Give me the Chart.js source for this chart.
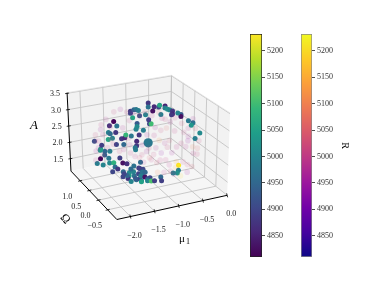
<!DOCTYPE html>
<html><head><meta charset="utf-8">
<script src="https://cdn.jsdelivr.net/npm/chart.js@4"></script>
<style>html,body{margin:0;padding:0;background:#fff;width:384px;height:288px;overflow:hidden}
canvas{position:absolute;top:0}</style></head><body>
<canvas id="main" width="384" height="288" style="left:0"></canvas>
<canvas id="cb1" width="60" height="288" style="left:240px"></canvas>
<canvas id="cb2" width="60" height="288" style="left:291px"></canvas>
<script>
const muTicks=[-2.0,-1.5,-1.0,-0.5,0.0];
const cTicks=[-0.5,0.0,0.5,1.0];
const aTicks=[1.5,2.0,2.5,3.0,3.5];
const rTicks=[4850,4900,4950,5000,5050,5100,5150,5200];
const muLim=[-2.28,0.0], cLim=[-1.0,1.5], aLim=[1.12,3.52], rLim=[4810,5231.5];

const muBack=[-1.15,-1.15,-1.075,-1.025,-0.975,-0.76,-0.76,-0.66,-0.63,-0.53,-0.51,-0.39,-0.39,-0.335,-0.285,-0.48,-0.225,-0.225,-0.245];
const aBack=[2.93,2.87,2.96,2.95,2.91,3.08,2.96,2.81,2.93,2.90,2.95,2.89,2.83,2.78,2.74,2.65,2.69,2.60,2.58];
const rBack=[4890,4900,4950,4980,4990,4880,4970,4830,4860,4900,5060,4850,4990,5020,5000,4990,4880,4850,4880];
const cBack=1.0;

const muMid=[-2.06,-1.95,-2.16,-2.15,-2.06,-1.97,-2.15,-2.22,-2.09,-1.95,-1.86,-1.83,-1.77,-1.88,-1.99,-2.29,-1.90,-1.70,-1.63,-1.81,-1.65,-1.37,-1.37,-1.40,-2.13,-1.88,-1.97,-1.81,-1.99,-1.95,-1.83,-1.61,-1.49,-1.32,-1.37,-1.39,-1.23,-1.37,-1.10,-1.065,-1.12,-1.19,-1.32,-1.47,0.0,-0.10,-0.255,-0.155,-0.19,-0.42,-0.42,-0.49];
const aMid=[2.36,2.33,2.42,2.45,2.25,2.13,2.16,2.04,1.96,1.98,1.96,1.83,1.75,1.70,2.69,2.72,2.70,2.63,2.64,2.49,2.45,2.47,2.33,2.28,2.56,3.19,3.09,3.04,2.90,2.85,2.85,2.72,2.66,2.64,3.00,2.83,2.76,2.91,2.92,2.91,3.04,3.21,3.22,3.20,2.33,2.19,2.78,2.69,2.62,3.01,2.95,3.08];
const rMid=[4950,4990,5030,5050,4940,4980,4815,4990,5000,5010,5080,4960,4880,4900,5060,4920,5000,4880,4860,4900,4950,4860,4880,4980,4890,4815,4870,4970,4990,4960,4880,5090,4980,4880,4930,5000,4990,5010,4900,5100,4890,5000,4920,5060,5010,4990,4980,4970,5030,4930,4830,5000];
const cMid=0.25;

const muFront=[-2.08,-2.01,-1.92,-1.99,-1.77,-1.63,-1.63,-1.86,-1.86,-1.77,-1.75,-1.66,-1.59,-1.57,-1.99,-1.88,-1.81,-1.70,-1.63,-1.59,-1.57,-1.66,-1.57,-1.52,-1.61,-1.52,-1.41,-1.46,-1.59,-1.46,-1.38,-1.31,-1.18,-1.16,-0.81,-0.81,-0.83,-0.92,-1.83,-1.90,-1.97,-1.72,-1.75];
const aFront=[2.56,2.40,2.35,2.14,2.24,2.31,2.12,2.07,1.98,2.07,1.95,1.98,2.05,1.89,1.99,1.91,1.80,1.82,1.83,1.76,2.09,2.15,2.01,1.99,1.91,1.85,1.79,1.78,1.73,1.72,1.69,1.68,1.75,1.63,1.98,1.84,1.76,1.79,2.17,2.00,2.07,1.86,2.71];
const rFront=[4890,4830,4870,4950,4970,4960,4900,5010,5040,5000,4970,4900,4960,4990,4900,4880,5000,4960,4900,4980,4900,4890,4970,4950,4990,4830,4900,4920,5050,5000,5110,4890,4950,4890,5230,4990,5020,5000,4960,4950,4900,4930,4990];
const cFront=-0.5;

const muGhost=[-1.74,-1.88,-2.15,-2.16,-2.27,-2.20,-1.93,-2.11,-1.54,-1.68,-1.32,-0.83,-0.76,-0.975,-0.73,-0.55,-0.255,-0.40,-0.255,-0.015,-0.88,-0.995,-0.66,-0.155,-0.40,-0.045,-0.76,-0.995,-0.83,-0.73,-0.51,-0.255,-0.135,-0.55,-0.40,-0.62,-0.255,-0.155,-0.76,-1.045,-0.925,-0.90,-1.21,-2.27,-2.25,-1.74,-1.40,-1.25,-1.085,-1.52,-1.88,-1.25,-1.10,-2.05,-1.95,-2.2,-2.1,-1.6,-1.45,-1.2,-1.05,-0.9,-0.65,-0.55,-0.35,-0.25,-0.1,-0.3,-0.15,-0.05,-0.5,-0.6,-0.7,-0.85,-0.95,-0.5,-0.35,-0.65,-1.15,-1.3,-1.5,-1.65,-1.55,-1.15,-0.85,-2.25,-2.0];
const aGhost=[3.52,3.48,3.17,3.03,2.90,2.70,2.67,2.87,3.13,2.95,3.22,3.01,2.96,2.77,2.69,2.55,2.55,2.74,2.17,2.10,2.36,2.54,2.29,2.81,2.13,1.88,2.24,1.96,1.96,1.73,1.43,1.44,1.75,1.24,1.14,1.35,1.21,1.35,1.36,1.82,1.70,1.40,1.79,2.72,2.42,2.27,2.02,2.03,1.89,2.40,2.52,2.32,2.19,3.3,3.05,2.5,2.25,3.4,3.35,3.3,3.15,3.2,2.85,2.95,2.45,2.3,2.5,2.0,1.95,1.7,2.05,1.9,2.1,1.75,2.15,1.6,1.55,1.55,2.1,1.95,2.15,2.3,2.6,2.6,2.65,2.15,2.45];
const rGhost=[4960,5010,5000,4950,5020,4990,5040,4980,5000,4970,5030,4990,5010,4950,5060,5000,4980,5020,4940,5010,5120,4990,5030,4960,5000,5050,4980,5010,4930,5000,5150,5020,4990,4970,5200,5010,4950,5040,4990,5000,5030,5100,4980,5000,4960,5020,4990,5010,5050,4970,5000,4940,5020,4980,5010,4960,5030,5000,4950,5020,4990,5040,4970,5010,5000,4960,5030,4980,5090,5010,4990,4950,5020,5000,4970,5130,5010,4990,4960,5030,5000,4980,5010,4950,5020,4990,5000];
const cGhost=0.25;

const muBig=[-1.12], aBig=[2.35], rBig=[4980], cBig=0.25;

const viridisStops=['#440154','#482878','#3e4989','#31688e','#26828e','#1f9e89','#35b779','#6ece58','#b5de2b','#fde725'];
const plasmaStops=['#0d0887','#46039f','#7201a8','#9c179e','#bd3786','#d8576b','#ed7953','#fb9f3a','#fdca26','#f0f921'];
const hex=h=>[1,3,5].map(i=>parseInt(h.substr(i,2),16));
function cmap(stops,r,alpha){
  const t=Math.min(1,Math.max(0,(r-rLim[0])/(rLim[1]-rLim[0])))*(stops.length-1);
  const i=Math.min(stops.length-2,Math.floor(t)),f=t-i,a=hex(stops[i]),b=hex(stops[i+1]);
  const c=a.map((v,k)=>Math.round(v+(b[k]-v)*f));
  return `rgba(${c[0]},${c[1]},${c[2]},${alpha})`;
}
// box corners in the page plane, used for the perspective of the 3D axes
const FL={a:[115,222],b:[228,197],c:[68,172],d:[170,150]};
const TP={a:[122,135],b:[231,112],c:[64,91],d:[171,73]};
function project(mu,c,A){
  const u=(mu-muLim[0])/(muLim[1]-muLim[0]),v=(c-cLim[0])/(cLim[1]-cLim[0]),w=(A-aLim[0])/(aLim[1]-aLim[0]);
  const bl=(Q,k)=>(1-u)*(1-v)*Q.a[k]+u*(1-v)*Q.b[k]+(1-u)*v*Q.c[k]+u*v*Q.d[k];
  return {x:bl(FL,0)*(1-w)+bl(TP,0)*w,y:bl(FL,1)*(1-w)+bl(TP,1)*w};
}
const pts=(mu,a,c)=>mu.map((m,i)=>project(m,c,a[i]));
const cols=(r,alpha)=>r.map(v=>cmap(viridisStops,v,alpha));
const SERIF='"Liberation Serif",serif';

const axes3d={id:'axes3d',
 beforeDatasetsDraw(ch){
  const g=ch.ctx,X=ch.scales.x,Y=ch.scales.y;
  const P=(m,c,a)=>{const p=project(m,c,a);return [X.getPixelForValue(p.x),Y.getPixelForValue(p.y)];};
  const poly=(L,fill)=>{g.beginPath();L.forEach((p,i)=>i?g.lineTo(p[0],p[1]):g.moveTo(p[0],p[1]));g.closePath();g.fillStyle=fill;g.fill();};
  const [m0,m1]=muLim,[c0,c1]=cLim,[a0,a1]=aLim;
  poly([P(m0,c1,a0),P(m1,c1,a0),P(m1,c1,a1),P(m0,c1,a1)],'#f2f2f2');
  poly([P(m1,c0,a0),P(m1,c1,a0),P(m1,c1,a1),P(m1,c0,a1)],'#f2f2f2');
  poly([P(m0,c0,a0),P(m1,c0,a0),P(m1,c1,a0),P(m0,c1,a0)],'#f6f6f6');
  const line=(L,col,w)=>{g.beginPath();L.forEach((p,i)=>i?g.lineTo(p[0],p[1]):g.moveTo(p[0],p[1]));g.strokeStyle=col;g.lineWidth=w;g.stroke();};
  const GC='#c4c4c4';
  muTicks.forEach(m=>line([P(m,c0,a0),P(m,c1,a0),P(m,c1,a1)],GC,0.9));
  cTicks.forEach(c=>line([P(m0,c,a0),P(m1,c,a0),P(m1,c,a1)],GC,0.9));
  aTicks.forEach(a=>line([P(m0,c1,a),P(m1,c1,a),P(m1,c0,a)],GC,0.9));
  line([P(m1,c1,a0),P(m1,c1,a1)],'#c0c0c0',1);
  line([P(m0,c1,a1),P(m1,c1,a1),P(m1,c0,a1)],'#e4e4e4',0.8);
  line([P(m0,c1,a1),P(m0,c1,a0),P(m0,c0,a0),P(m1,c0,a0)],'#000',1);
  muTicks.forEach(m=>{const p=P(m,c0,a0);line([[p[0]-0.5,p[1]-2],[p[0]+0.5,p[1]+2]],'#000',0.8);});
  cTicks.forEach(c=>{const p=P(m0,c,a0);line([[p[0]+2,p[1]-0.5],[p[0]-2,p[1]+0.5]],'#000',0.8);});
  aTicks.forEach(a=>{const p=P(m0,c1,a);line([[p[0]+2,p[1]-0.3],[p[0]-2,p[1]+0.3]],'#000',0.8);});
 },
 afterDatasetsDraw(ch){
  const g=ch.ctx,X=ch.scales.x,Y=ch.scales.y;
  const P=(m,c,a)=>{const p=project(m,c,a);return [X.getPixelForValue(p.x),Y.getPixelForValue(p.y)];};
  const [m0,m1]=muLim,[c0,c1]=cLim,[a0]=aLim;
  g.save();g.fillStyle='#222';g.font='8px '+SERIF;g.textBaseline='middle';g.textAlign='center';
  const fmt=v=>(v<0?'\u2212':'')+Math.abs(v).toFixed(1);
  muTicks.forEach(m=>{const p=P(m,c0,a0);g.fillText(fmt(m),p[0]+4,p[1]+19);});
  cTicks.forEach(c=>{const p=P(m0,c,a0);g.fillText(fmt(c),p[0]-13,p[1]+16);});
  g.textAlign='right';
  aTicks.forEach(a=>{const p=P(m0,c1,a);g.fillText(fmt(a),p[0]-7,p[1]+1);});
  g.fillStyle='#000';g.textAlign='center';
  g.font='italic 13px '+SERIF;g.fillText('A',34,126);
  g.font='11px '+SERIF;g.fillText('\u03bc',182,239);g.font='8px '+SERIF;g.fillText('1',188,242);
  g.save();g.translate(65,219);g.rotate(0.85);g.font='12px '+SERIF;g.fillText('\u03a9',0,0);g.restore();
  g.restore();
 }};

const ds=(mu,a,c,col,radius)=>({data:pts(mu,a,c),pointBackgroundColor:col,pointBorderWidth:0,pointRadius:radius,pointHoverRadius:radius,showLine:false,clip:false});
new Chart(document.getElementById('main'),{type:'scatter',
 data:{datasets:[
  ds(muGhost,aGhost,cGhost,rGhost.map(v=>cmap(plasmaStops,v,0.13)),2.8),
  ds(muBack,aBack,cBack,cols(rBack,1),2.5),
  ds(muBig,aBig,cBig,cols(rBig,1),4.6),
  ds(muMid,aMid,cMid,cols(rMid,1),2.5),
  ds(muFront,aFront,cFront,cols(rFront,1),2.5)]},
 options:{responsive:false,animation:false,layout:{padding:0},plugins:{legend:{display:false},tooltip:{enabled:false}},
  scales:{x:{type:'linear',min:0,max:384,display:false},y:{type:'linear',min:0,max:288,reverse:true,display:false}}},
 plugins:[axes3d]});

function colorbar(id,stops,edge,label,padLeft,scaleW){
 new Chart(document.getElementById(id),{type:'bar',
  data:{labels:['R'],datasets:[{data:[rLim],barPercentage:1,categoryPercentage:1,borderWidth:1,borderColor:edge,borderSkipped:false,
   backgroundColor(ctx){const a=ctx.chart.chartArea;if(!a)return stops[0];
    const gr=ctx.chart.ctx.createLinearGradient(0,a.bottom,0,a.top);stops.forEach((s,i)=>gr.addColorStop(i/(stops.length-1),s));return gr;}}]},
  options:{responsive:false,animation:false,layout:{padding:{top:34,bottom:31,left:padLeft,right:0}},
   plugins:{legend:{display:false},tooltip:{enabled:false}},
   scales:{x:{display:false},
    y:{position:'right',min:rLim[0],max:rLim[1],
     afterBuildTicks(s){s.ticks=rTicks.map(v=>({value:v}));},
     afterFit(s){s.width=scaleW;},
     border:{display:false},grid:{drawOnChartArea:false,drawTicks:true,tickLength:3,color:'#222',lineWidth:0.8},
     ticks:{color:'#333',padding:2,font:{family:SERIF,size:8},maxRotation:0,autoSkip:false,callback:v=>String(v)},
     title:{display:!!label,text:label,color:'#000',padding:0,font:{family:SERIF,size:10}}}}}});
}
colorbar('cb1',viridisStops,'#222','',10,38);
colorbar('cb2',plasmaStops,'#888','R',10,39);
</script></body></html>
